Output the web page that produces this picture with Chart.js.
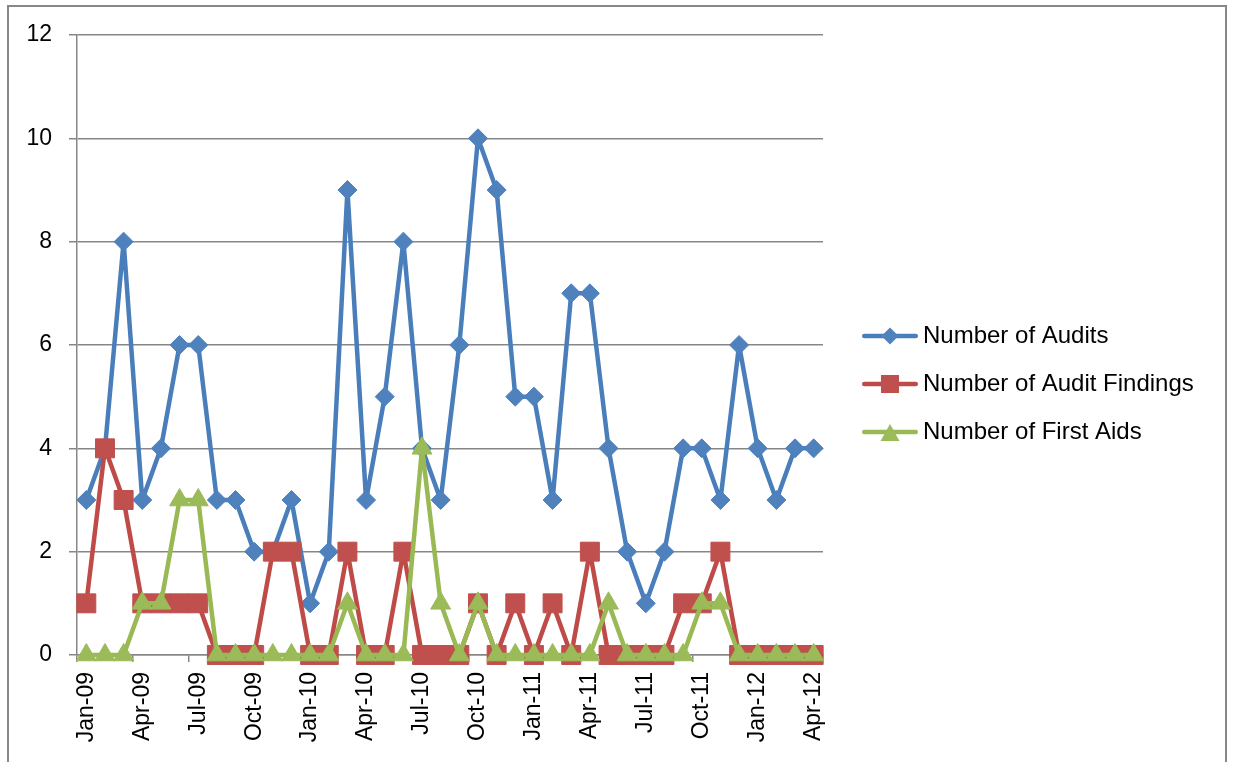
<!DOCTYPE html>
<html>
<head>
<meta charset="utf-8">
<title>Audits and First Aids</title>
<script src="https://cdn.jsdelivr.net/npm/chart.js@4.4.1/dist/chart.umd.min.js"></script>
<style>
  html, body { margin: 0; padding: 0; background: #ffffff; overflow: hidden; }
  #frame {
    position: absolute; left: 7px; top: 5px;
    width: 1216px; height: 800px;
    border: 2px solid #878787;
  }
  #chart { position: absolute; left: 0; top: 0; }
</style>
</head>
<body>
<div id="frame"></div>
<canvas id="chart" width="1233" height="762"></canvas>
<script>
// Monthly categories
const months = [
  'Jan-09','Feb-09','Mar-09','Apr-09','May-09','Jun-09','Jul-09','Aug-09','Sep-09','Oct-09','Nov-09','Dec-09',
  'Jan-10','Feb-10','Mar-10','Apr-10','May-10','Jun-10','Jul-10','Aug-10','Sep-10','Oct-10','Nov-10','Dec-10',
  'Jan-11','Feb-11','Mar-11','Apr-11','May-11','Jun-11','Jul-11','Aug-11','Sep-11','Oct-11','Nov-11','Dec-11',
  'Jan-12','Feb-12','Mar-12','Apr-12'
];

// Series values
const audits = [
  3, 4, 8, 3, 4, 6, 6, 3, 3, 2, 2, 3,
  1, 2, 9, 3, 5, 8, 4, 3, 6, 10, 9, 5,
  5, 3, 7, 7, 4, 2, 1, 2, 4, 4, 3, 6,
  4, 3, 4, 4
];
const auditFindings = [
  1, 4, 3, 1, 1, 1, 1, 0, 0, 0, 2, 2,
  0, 0, 2, 0, 0, 2, 0, 0, 0, 1, 0, 1,
  0, 1, 0, 2, 0, 0, 0, 0, 1, 1, 2, 0,
  0, 0, 0, 0
];
const firstAids = [
  0, 0, 0, 1, 1, 3, 3, 0, 0, 0, 0, 0,
  0, 0, 1, 0, 0, 0, 4, 1, 0, 1, 0, 0,
  0, 0, 0, 0, 1, 0, 0, 0, 0, 1, 1, 0,
  0, 0, 0, 0
];

// Series names
const seriesNames = ['Number of Audits', 'Number of Audit Findings', 'Number of First Aids'];

// Value axis ticks
const yMin = 0;
const yMax = 12;
const yStep = 2;

// Only every third month gets a label and a tick mark
const labelEvery = 3;

const FONT_FAMILY = "'Liberation Sans', Arial, sans-serif";
const AXIS_FONT_SIZE = 23;
const LEGEND_FONT_SIZE = 24;
const GRID = '#878787';

const BLUE_LINE = '#4A7EBB', BLUE_FILL = '#4F81BD';
const RED_LINE = '#BE4B48', RED_FILL = '#C0504D';
const GREEN_LINE = '#98B954', GREEN_FILL = '#9BBB59';

// Layout targets for the plot area
const PLOT_LEFT = 77, PLOT_TOP = 35, PLOT_BOTTOM = 655, PLOT_RIGHT = 823;
const CANVAS_W = 1233, CANVAS_H = 762;

// Legend geometry
const LEGEND_PAD = 24;
const LEGEND_BOX = 64;
const LEGEND_FIRST_ROW = 336;
const SWATCH_W = 80, SWATCH_H = 24;

// Small line-plus-marker swatches for the legend
function legendSwatch(lineColor, fillColor, shape) {
  const c = document.createElement('canvas');
  c.width = SWATCH_W; c.height = SWATCH_H;
  const g = c.getContext('2d');
  const cy = 12, cx = 51;
  g.strokeStyle = lineColor;
  g.lineWidth = 4.5;
  g.lineCap = 'round';
  g.beginPath();
  g.moveTo(25.25, cy);
  g.lineTo(76.75, cy);
  g.stroke();
  g.fillStyle = fillColor;
  g.beginPath();
  if (shape === 'diamond') {
    g.moveTo(cx - 8.5, cy); g.lineTo(cx, cy - 8.5); g.lineTo(cx + 8.5, cy); g.lineTo(cx, cy + 8.5);
  } else if (shape === 'square') {
    g.rect(cx - 9, cy - 9, 18, 18);
  } else {
    g.moveTo(cx, cy - 8); g.lineTo(cx + 9.5, cy + 9); g.lineTo(cx - 9.5, cy + 9);
  }
  g.closePath();
  g.fill();
  return c;
}
const swatches = [
  legendSwatch(BLUE_LINE, BLUE_FILL, 'diamond'),
  legendSwatch(RED_LINE, RED_FILL, 'square'),
  legendSwatch(GREEN_LINE, GREEN_FILL, 'triangle')
];

// Measure legend text so the legend sits right of the plot area
const measureCtx = document.createElement('canvas').getContext('2d');
measureCtx.font = LEGEND_FONT_SIZE + 'px ' + FONT_FAMILY;
const maxText = Math.max(...seriesNames.map(t => measureCtx.measureText(t).width));
const legendWidth = 10 + LEGEND_PAD + (LEGEND_BOX + LEGEND_FONT_SIZE / 2 + maxText);
const padRight = CANVAS_W - PLOT_RIGHT - legendWidth;
// Spacer above the legend rows so the first row lands at LEGEND_FIRST_ROW
const legendSpacer = LEGEND_FIRST_ROW - LEGEND_FONT_SIZE / 2 - LEGEND_PAD - PLOT_TOP - 10;

const axisFont = { family: FONT_FAMILY, size: AXIS_FONT_SIZE };
const legendFont = { family: FONT_FAMILY, size: LEGEND_FONT_SIZE };

new Chart(document.getElementById('chart'), {
  type: 'line',
  data: {
    labels: months,
    datasets: [
      {
        label: seriesNames[0],
        data: audits,
        borderColor: BLUE_LINE,
        backgroundColor: BLUE_FILL,
        pointBackgroundColor: BLUE_FILL,
        pointBorderColor: BLUE_FILL,
        pointBorderWidth: 1,
        pointStyle: 'rectRot',
        pointRadius: 9.5,
        order: 3
      },
      {
        label: seriesNames[1],
        data: auditFindings,
        borderColor: RED_LINE,
        backgroundColor: RED_FILL,
        pointBackgroundColor: RED_FILL,
        pointBorderColor: RED_FILL,
        pointBorderWidth: 1,
        pointStyle: 'rect',
        pointRadius: 13.4,
        order: 2
      },
      {
        label: seriesNames[2],
        data: firstAids,
        borderColor: GREEN_LINE,
        backgroundColor: GREEN_FILL,
        pointBackgroundColor: GREEN_FILL,
        pointBorderColor: GREEN_FILL,
        pointBorderWidth: 1,
        pointStyle: 'triangle',
        pointRadius: 11.5,
        order: 1
      }
    ].map(ds => Object.assign({
      borderWidth: 4.5,
      tension: 0,
      fill: false,
      clip: false,
      borderJoinStyle: 'round',
      borderCapStyle: 'round'
    }, ds))
  },
  options: {
    responsive: false,
    animation: false,
    devicePixelRatio: 1,
    events: [],
    layout: {
      padding: { left: 0, top: PLOT_TOP, right: padRight, bottom: 0 }
    },
    scales: {
      x: {
        type: 'category',
        offset: true,
        grid: {
          offset: true,
          drawOnChartArea: false,
          drawTicks: true,
          tickLength: 7,
          lineWidth: 1.5,
          color: ctx => (ctx.index % labelEvery === 0 ? GRID : 'rgba(0,0,0,0)')
        },
        border: { display: true, color: GRID, width: 1.5 },
        ticks: {
          autoSkip: false,
          minRotation: 90,
          maxRotation: 90,
          padding: 10,
          color: '#000000',
          font: axisFont,
          callback: (value, index) => (index % labelEvery === 0 ? months[index] : '')
        },
        afterFit: scale => { scale.height = CANVAS_H - PLOT_BOTTOM; }
      },
      y: {
        min: yMin,
        max: yMax,
        grid: {
          color: GRID,
          lineWidth: 1.5,
          drawTicks: true,
          tickLength: 8
        },
        border: { display: true, color: GRID, width: 1.5 },
        ticks: {
          stepSize: yStep,
          padding: 17,
          color: '#000000',
          font: axisFont
        },
        afterFit: scale => { scale.width = PLOT_LEFT; }
      }
    },
    plugins: {
      tooltip: { enabled: false },
      legend: {
        display: true,
        position: 'right',
        align: 'start',
        maxWidth: 1000,
        title: {
          display: true,
          text: ' ',
          font: { size: 10, lineHeight: 1 },
          padding: { top: legendSpacer, bottom: 0 }
        },
        labels: {
          usePointStyle: true,
          pointStyleWidth: LEGEND_BOX,
          padding: LEGEND_PAD,
          color: '#000000',
          font: legendFont,
          sort: (a, b) => a.datasetIndex - b.datasetIndex,
          generateLabels: chart => {
            const items = Chart.defaults.plugins.legend.labels.generateLabels(chart);
            items.forEach(it => { it.pointStyle = swatches[it.datasetIndex]; });
            return items;
          }
        }
      }
    }
  }
});
</script>
</body>
</html>
